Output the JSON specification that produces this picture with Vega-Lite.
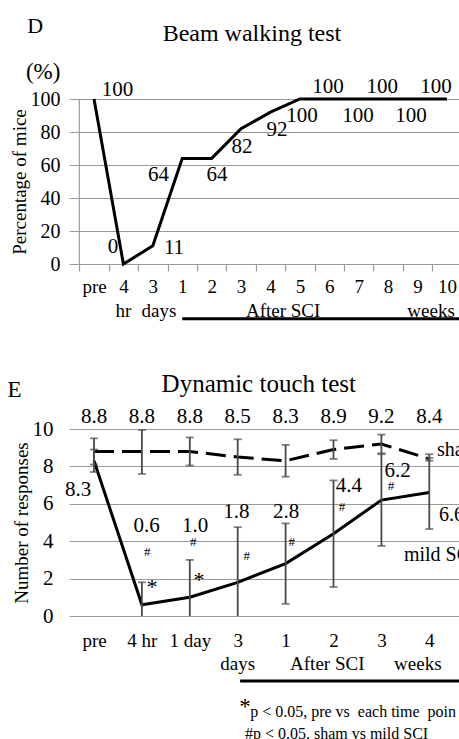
{
  "$schema": "https://vega.github.io/schema/vega-lite/v6.json",
  "padding": {"left": 7, "top": 15, "right": 0, "bottom": 0},
  "background": "white",
  "config": {
    "font": "Liberation Serif",
    "view": {"stroke": null},
    "axis": {"labelFont": "Liberation Serif", "titleFont": "Liberation Serif", "labelColor": "#000", "titleColor": "#000", "titleFontWeight": "normal", "gridColor": "#9a9a9a", "gridWidth": 1.2, "labelFlush": false, "labelOverlap": false, "tickCount": 40},
    "text": {"font": "Liberation Serif", "color": "#000"}
  },
  "datasets": {
    "beam": [
      {"i": 0, "t": "pre", "v": 100}, {"i": 1, "t": "4 hr", "v": 0}, {"i": 2, "t": "3 days", "v": 11},
      {"i": 3, "t": "1 week", "v": 64}, {"i": 4, "t": "2 weeks", "v": 64}, {"i": 5, "t": "3 weeks", "v": 82},
      {"i": 6, "t": "4 weeks", "v": 92}, {"i": 7, "t": "5 weeks", "v": 100}, {"i": 8, "t": "6 weeks", "v": 100},
      {"i": 9, "t": "7 weeks", "v": 100}, {"i": 10, "t": "8 weeks", "v": 100}, {"i": 11, "t": "9 weeks", "v": 100},
      {"i": 12, "t": "10 weeks", "v": 100}
    ],
    "touch": [
      {"i": 0, "group": "sham", "mean": 8.8, "lo": 8.1, "hi": 9.5},
      {"i": 1, "group": "sham", "mean": 8.8, "lo": 7.6, "hi": 9.95},
      {"i": 2, "group": "sham", "mean": 8.8, "lo": 8.05, "hi": 9.55},
      {"i": 3, "group": "sham", "mean": 8.5, "lo": 7.55, "hi": 9.45},
      {"i": 4, "group": "sham", "mean": 8.3, "lo": 7.45, "hi": 9.15},
      {"i": 5, "group": "sham", "mean": 8.9, "lo": 8.4, "hi": 9.4},
      {"i": 6, "group": "sham", "mean": 9.2, "lo": 8.7, "hi": 9.7},
      {"i": 7, "group": "sham", "mean": 8.4, "lo": 8.3, "hi": 8.45},
      {"i": 0, "group": "mild SCI", "mean": 8.3, "lo": 7.7, "hi": 8.9},
      {"i": 1, "group": "mild SCI", "mean": 0.6, "lo": -0.6, "hi": 1.8},
      {"i": 2, "group": "mild SCI", "mean": 1.0, "lo": -1.0, "hi": 3.0},
      {"i": 3, "group": "mild SCI", "mean": 1.8, "lo": -1.15, "hi": 4.75},
      {"i": 4, "group": "mild SCI", "mean": 2.8, "lo": 0.65, "hi": 4.95},
      {"i": 5, "group": "mild SCI", "mean": 4.4, "lo": 1.55, "hi": 7.25},
      {"i": 6, "group": "mild SCI", "mean": 6.2, "lo": 3.75, "hi": 8.65},
      {"i": 7, "group": "mild SCI", "mean": 6.6, "lo": 4.65, "hi": 8.65}
    ]
  },
  "concat": [
    {
      "width": 390,
      "height": 165,
      "layer": [
        {
          "data": {"name": "beam"},
          "mark": {"type": "line", "color": "#000", "strokeWidth": 3},
          "encoding": {
            "x": {"field": "i", "type": "quantitative",
              "scale": {"domain": [-0.85, 12.41], "nice": false, "zero": false},
              "axis": {"title": null, "values": [0,1,2,3,4,5,6,7,8,9,10,11,12], "tickCount": 40,
                "labelExpr": "['pre','4','3','1','2','3','4','5','6','7','8','9','10'][datum.value]",
                "grid": false, "domain": false, "ticks": true, "tickSize": 7, "tickColor": "#9a9a9a", "tickWidth": 1.2,
                "tickOffset": -14.7, "labelOffset": 14.7, "labelPadding": 6, "labelFontSize": 19}},
            "y": {"field": "v", "type": "quantitative",
              "scale": {"domain": [0, 100], "nice": false},
              "axis": {"title": "Percentage of mice", "values": [0,20,40,60,80,100], "tickCount": 40, "format": "d", "grid": true, "domain": false, "ticks": false,
                "labelPadding": 9, "labelFontSize": 20, "titleFontSize": 19, "titlePadding": 1}}
          }
        },
        {
          "data": {"values": [{}]},
          "mark": {"type": "rule", "color": "#9a9a9a", "strokeWidth": 1.2},
          "encoding": {"x": {"datum": -0.5}, "y": {"datum": 0}, "y2": {"datum": 100}}
        },
        {
          "data": {"values": [
            {"x": 0.8, "y": 105.5, "label": "100"}, {"x": 0.65, "y": 10.3, "label": "0"}, {"x": 2.72, "y": 9.7, "label": "11"},
            {"x": 2.19, "y": 53.8, "label": "64"}, {"x": 4.18, "y": 53.8, "label": "64"}, {"x": 5.03, "y": 70.7, "label": "82"},
            {"x": 6.22, "y": 81.0, "label": "92"}, {"x": 7.07, "y": 89.4, "label": "100"}, {"x": 7.96, "y": 107, "label": "100"},
            {"x": 8.98, "y": 89.4, "label": "100"}, {"x": 9.8, "y": 107, "label": "100"}, {"x": 10.78, "y": 89.4, "label": "100"},
            {"x": 11.63, "y": 107, "label": "100"}
          ]},
          "mark": {"type": "text", "fontSize": 21, "baseline": "middle", "align": "center"},
          "encoding": {"x": {"field": "x", "type": "quantitative"}, "y": {"field": "y", "type": "quantitative"}, "text": {"field": "label"}}
        },
        {
          "data": {"values": [{"x": 5.37, "y": 139.1, "label": "Beam walking test"}]},
          "mark": {"type": "text", "fontSize": 24, "baseline": "middle", "align": "center"},
          "encoding": {"x": {"field": "x", "type": "quantitative"}, "y": {"field": "y", "type": "quantitative"}, "text": {"field": "label"}}
        },
        {
          "data": {"values": [{"x": -2.0, "y": 144.2, "label": "D"}]},
          "mark": {"type": "text", "fontSize": 22, "baseline": "middle", "align": "center"},
          "encoding": {"x": {"field": "x", "type": "quantitative"}, "y": {"field": "y", "type": "quantitative"}, "text": {"field": "label"}}
        },
        {
          "data": {"values": [{"x": -1.73, "y": 116.6, "label": "(%)"}]},
          "mark": {"type": "text", "fontSize": 23, "baseline": "middle", "align": "center"},
          "encoding": {"x": {"field": "x", "type": "quantitative"}, "y": {"field": "y", "type": "quantitative"}, "text": {"field": "label"}}
        },
        {
          "data": {"values": [
            {"x": 1, "y": -28.4, "label": "hr"}, {"x": 2.21, "y": -28.4, "label": "days"},
            {"x": 6.43, "y": -28.4, "label": "After SCI"}, {"x": 11.46, "y": -28.4, "label": "weeks"}
          ]},
          "mark": {"type": "text", "fontSize": 19, "baseline": "middle", "align": "center"},
          "encoding": {"x": {"field": "x", "type": "quantitative"}, "y": {"field": "y", "type": "quantitative"}, "text": {"field": "label"}}
        },
        {
          "data": {"values": [{"x": 3.0, "x2": 12.41, "y": -33.2}]},
          "mark": {"type": "rule", "color": "#000", "strokeWidth": 3},
          "encoding": {"x": {"field": "x", "type": "quantitative"}, "x2": {"field": "x2"}, "y": {"field": "y", "type": "quantitative"}}
        }
      ]
    },
    {
      "width": 390,
      "height": 187,
      "layer": [
        {
          "data": {"name": "touch"},
          "transform": [{"filter": "datum.group == 'mild SCI'"}],
          "mark": {"type": "line", "color": "#000", "strokeWidth": 3},
          "encoding": {
            "x": {"field": "i", "type": "quantitative",
              "scale": {"domain": [-0.522, 7.62], "nice": false, "zero": false},
              "axis": {"title": null, "values": [0,1,2,3,4,5,6,7], "tickCount": 40,
                "labelExpr": "['pre','4 hr','1 day','3','1','2','3','4'][datum.value]",
                "grid": false, "domain": false, "ticks": false, "labelPadding": 15, "labelFontSize": 19}},
            "y": {"field": "mean", "type": "quantitative",
              "scale": {"domain": [0, 10], "nice": false},
              "axis": {"title": "Number of responses", "values": [0,2,4,6,8,10], "tickCount": 40, "format": "d", "grid": true, "domain": false, "ticks": false,
                "labelPadding": 16, "labelFontSize": 21, "titleFontSize": 19, "titlePadding": 1}}
          }
        },
        {
          "data": {"name": "touch"},
          "transform": [{"filter": "datum.group == 'sham'"}],
          "mark": {"type": "line", "color": "#000", "strokeWidth": 3, "strokeDash": [20, 8]},
          "encoding": {"x": {"field": "i", "type": "quantitative"}, "y": {"field": "mean", "type": "quantitative"}}
        },
        {
          "data": {"name": "touch"},
          "mark": {"type": "rule", "color": "#4a4a4a", "strokeWidth": 1.8, "clip": true},
          "encoding": {"x": {"field": "i", "type": "quantitative"}, "y": {"field": "lo", "type": "quantitative"}, "y2": {"field": "hi"}}
        },
        {
          "data": {"name": "touch"},
          "mark": {"type": "tick", "orient": "horizontal", "color": "#4a4a4a", "size": 8, "thickness": 1.8, "clip": true},
          "encoding": {"x": {"field": "i", "type": "quantitative"}, "y": {"field": "hi", "type": "quantitative"}}
        },
        {
          "data": {"name": "touch"},
          "mark": {"type": "tick", "orient": "horizontal", "color": "#4a4a4a", "size": 8, "thickness": 1.8, "clip": true},
          "encoding": {"x": {"field": "i", "type": "quantitative"}, "y": {"field": "lo", "type": "quantitative"}}
        },
        {
          "data": {"name": "touch"},
          "transform": [{"filter": "datum.group == 'sham'"}],
          "mark": {"type": "text", "fontSize": 21, "baseline": "middle", "align": "center"},
          "encoding": {"x": {"field": "i", "type": "quantitative"}, "y": {"datum": 10.64}, "text": {"field": "mean", "type": "quantitative", "format": ".1f"}}
        },
        {
          "data": {"values": [
            {"x": -0.33, "y": 6.74, "label": "8.3"}, {"x": 1.10, "y": 4.81, "label": "0.6"}, {"x": 2.11, "y": 4.81, "label": "1.0"},
            {"x": 2.97, "y": 5.56, "label": "1.8"}, {"x": 4.01, "y": 5.56, "label": "2.8"}, {"x": 5.32, "y": 6.93, "label": "4.4"},
            {"x": 6.34, "y": 7.73, "label": "6.2"}
          ]},
          "mark": {"type": "text", "fontSize": 21, "baseline": "middle", "align": "center"},
          "encoding": {"x": {"field": "x", "type": "quantitative"}, "y": {"field": "y", "type": "quantitative"}, "text": {"field": "label"}}
        },
        {
          "data": {"values": [
            {"x": 7.16, "y": 8.88, "label": "sham"}, {"x": 6.47, "y": 3.26, "label": "mild SCI"}, {"x": 7.2, "y": 5.4, "label": "6.6"}
          ]},
          "mark": {"type": "text", "fontSize": 20, "baseline": "middle", "align": "left", "clip": true},
          "encoding": {"x": {"field": "x", "type": "quantitative"}, "y": {"field": "y", "type": "quantitative"}, "text": {"field": "label"}}
        },
        {
          "data": {"values": [
            {"x": 1.11, "y": 3.42, "sym": "#"}, {"x": 2.07, "y": 3.96, "sym": "#"}, {"x": 3.19, "y": 3.21, "sym": "#"},
            {"x": 4.13, "y": 3.96, "sym": "#"}, {"x": 5.18, "y": 5.83, "sym": "#"}, {"x": 6.2, "y": 6.95, "sym": "#"}
          ]},
          "mark": {"type": "text", "fontSize": 13, "baseline": "middle", "align": "center"},
          "encoding": {"x": {"field": "x", "type": "quantitative"}, "y": {"field": "y", "type": "quantitative"}, "text": {"field": "sym"}}
        },
        {
          "data": {"values": [{"x": 1.21, "y": 1.55, "sym": "*"}, {"x": 2.19, "y": 1.92, "sym": "*"}]},
          "mark": {"type": "text", "fontSize": 22, "baseline": "middle", "align": "center"},
          "encoding": {"x": {"field": "x", "type": "quantitative"}, "y": {"field": "y", "type": "quantitative"}, "text": {"field": "sym"}}
        },
        {
          "data": {"values": [
            {"x": 3, "y": -2.57, "label": "days"}, {"x": 4.87, "y": -2.57, "label": "After SCI"}, {"x": 6.76, "y": -2.57, "label": "weeks"}
          ]},
          "mark": {"type": "text", "fontSize": 19, "baseline": "middle", "align": "center"},
          "encoding": {"x": {"field": "x", "type": "quantitative"}, "y": {"field": "y", "type": "quantitative"}, "text": {"field": "label"}}
        },
        {
          "data": {"values": [{"x": 3.05, "x2": 7.62, "y": -3.48}]},
          "mark": {"type": "rule", "color": "#000", "strokeWidth": 3},
          "encoding": {"x": {"field": "x", "type": "quantitative"}, "x2": {"field": "x2"}, "y": {"field": "y", "type": "quantitative"}}
        },
        {
          "data": {"values": [{"x": 3.15, "y": -4.85, "sym": "*"}]},
          "mark": {"type": "text", "fontSize": 23, "baseline": "middle", "align": "center"},
          "encoding": {"x": {"field": "x", "type": "quantitative"}, "y": {"field": "y", "type": "quantitative"}, "text": {"field": "sym"}}
        },
        {
          "data": {"values": [
            {"x": 3.26, "y": -5.13, "label": "p < 0.05, pre vs\u00a0 each time\u00a0 point"},
            {"x": 3.15, "y": -6.31, "label": "#p < 0.05, sham vs mild SCI"}
          ]},
          "mark": {"type": "text", "fontSize": 16, "baseline": "middle", "align": "left", "limit": 210, "ellipsis": "\u200b"},
          "encoding": {"x": {"field": "x", "type": "quantitative"}, "y": {"field": "y", "type": "quantitative"}, "text": {"field": "label"}}
        },
        {
          "data": {"values": [{"x": 3.44, "y": 12.38, "label": "Dynamic touch test"}]},
          "mark": {"type": "text", "fontSize": 25, "baseline": "middle", "align": "center"},
          "encoding": {"x": {"field": "x", "type": "quantitative"}, "y": {"field": "y", "type": "quantitative"}, "text": {"field": "label"}}
        },
        {
          "data": {"values": [{"x": -1.66, "y": 12.09, "label": "E"}]},
          "mark": {"type": "text", "fontSize": 23, "baseline": "middle", "align": "center"},
          "encoding": {"x": {"field": "x", "type": "quantitative"}, "y": {"field": "y", "type": "quantitative"}, "text": {"field": "label"}}
        }
      ]
    }
  ],
  "columns": 1,
  "spacing": 51
}
